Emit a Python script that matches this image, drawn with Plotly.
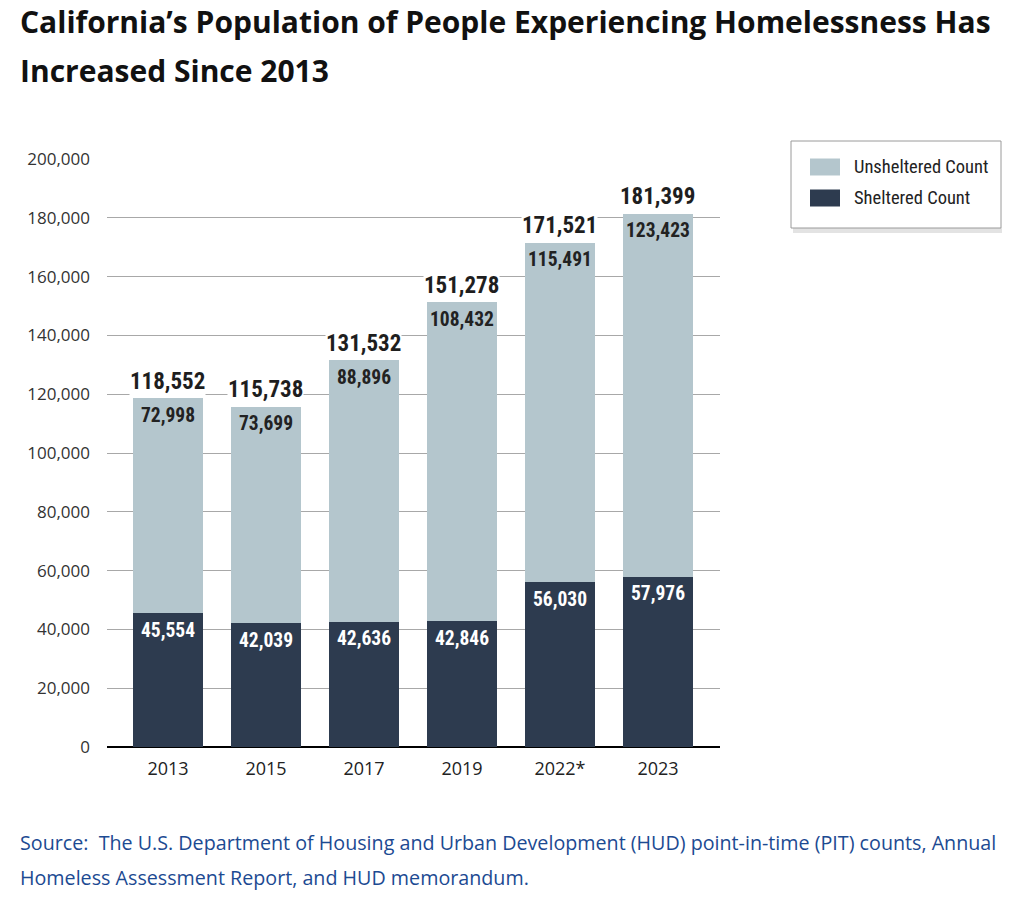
import plotly.graph_objects as go

years = ["2013", "2015", "2017", "2019", "2022*", "2023"]
sheltered = [45554, 42039, 42636, 42846, 56030, 57976]
unsheltered = [72998, 73699, 88896, 108432, 115491, 123423]
totals = [118552, 115738, 131532, 151278, 171521, 181399]
y_ticks = [0, 20000, 40000, 60000, 80000, 100000, 120000, 140000, 160000, 180000, 200000]

C_SHEL = "#2d3b4f"
C_UNSH = "#b4c6cd"
COND = "Roboto Condensed, DejaVu Sans Condensed, sans-serif"

# body margin is removed by post_script, so figure pixels == screenshot pixels
W, H = 1027, 900
L, R, T, B = 107, 307, 159, 153
pw, ph = W - L - R, H - T - B


def px(x):
    return (x - L) / pw


def py(y):
    return (H - B - y) / ph


fig = go.Figure()
fig.add_trace(go.Bar(x=years, y=sheltered, name="Sheltered Count", showlegend=False,
                     marker=dict(color=C_SHEL, line=dict(width=0))))
fig.add_trace(go.Bar(x=years, y=unsheltered, name="Unsheltered Count", showlegend=False,
                     marker=dict(color=C_UNSH, line=dict(width=0))))

ann = []
for i, yr in enumerate(years):
    ann.append(dict(x=i, y=totals[i], xref="x", yref="y", text=f"{totals[i]:,}",
                    showarrow=False, yanchor="middle", yshift=17, bgcolor="white",
                    borderpad=0,
                    font=dict(family=COND, size=23, color="#1e1e1e", weight="bold")))
    ann.append(dict(x=i, y=totals[i], xref="x", yref="y", text=f"{unsheltered[i]:,}",
                    showarrow=False, yanchor="middle", yshift=-17,
                    font=dict(family=COND, size=19.5, color="#222222", weight="bold")))
    ann.append(dict(x=i, y=sheltered[i], xref="x", yref="y", text=f"{sheltered[i]:,}",
                    showarrow=False, yanchor="middle", yshift=-17,
                    font=dict(family=COND, size=19.5, color="white", weight="bold")))

TITLE_FONT = dict(family="Open Sans", size=30, color="#111111", weight="bold")
ann.append(dict(x=px(18), y=py(22), xref="paper", yref="paper", xanchor="left", yanchor="middle",
                text="California’s Population of People Experiencing Homelessness Has",
                showarrow=False, font=TITLE_FONT))
ann.append(dict(x=px(18), y=py(70), xref="paper", yref="paper", xanchor="left", yanchor="middle",
                text="Increased Since 2013", showarrow=False, font=TITLE_FONT))

SRC_FONT = dict(family="Open Sans", size=19.7, color="#1c4a92")
ann.append(dict(x=px(18), y=py(842), xref="paper", yref="paper", xanchor="left", yanchor="middle",
                text="Source:  The U.S. Department of Housing and Urban Development (HUD) point-in-time (PIT) counts, Annual",
                showarrow=False, font=SRC_FONT))
ann.append(dict(x=px(18), y=py(877), xref="paper", yref="paper", xanchor="left", yanchor="middle",
                text="Homeless Assessment Report, and HUD memorandum.",
                showarrow=False, font=SRC_FONT))

# legend (box, shadow, swatches, labels)
LEG_FONT = dict(family=COND, size=18.5, color="#222222")
legend_items = [("Unsheltered Count", C_UNSH, 167), ("Sheltered Count", C_SHEL, 198)]
shapes = [
    dict(type="rect", xref="paper", yref="paper", x0=px(793), x1=px(1002), y0=py(233), y1=py(228),
         fillcolor="#e3e3e3", line=dict(width=0)),
    dict(type="rect", xref="paper", yref="paper", x0=px(791), x1=px(1001), y0=py(228), y1=py(141),
         fillcolor="white", line=dict(color="#9a9a9a", width=1)),
]
for name, col, cy in legend_items:
    shapes.append(dict(type="rect", xref="paper", yref="paper", x0=px(810), x1=px(840),
                       y0=py(cy + 8.5), y1=py(cy - 8.5), fillcolor=col, line=dict(width=0)))
    ann.append(dict(x=px(852), y=py(cy), xref="paper", yref="paper", xanchor="left", yanchor="middle",
                    text=name, showarrow=False, font=LEG_FONT))

fig.update_layout(
    width=W, height=H,
    margin=dict(l=L, r=R, t=T, b=B, autoexpand=False),
    paper_bgcolor="white", plot_bgcolor="white",
    barmode="stack", bargap=0.286,
    showlegend=False,
    annotations=ann,
    shapes=shapes,
    xaxis=dict(type="category", range=[-0.622, 5.633], showgrid=False, showline=False,
               ticks="", ticklabelstandoff=9,
               tickfont=dict(family="Open Sans", size=18, color="#222222")),
    yaxis=dict(range=[0, 200000], tickvals=y_ticks, ticktext=[f"{v:,}" for v in y_ticks],
               showgrid=True, gridcolor="#a8a8a8", gridwidth=1,
               zeroline=True, zerolinecolor="#000000", zerolinewidth=2,
               showline=False, ticks="", ticklabelstandoff=16,
               tickfont=dict(family="Open Sans", size=17, color="#333333")),
)

fig.write_html("out.html", config={"displayModeBar": False},
               post_script="document.body.style.margin='0px';")
